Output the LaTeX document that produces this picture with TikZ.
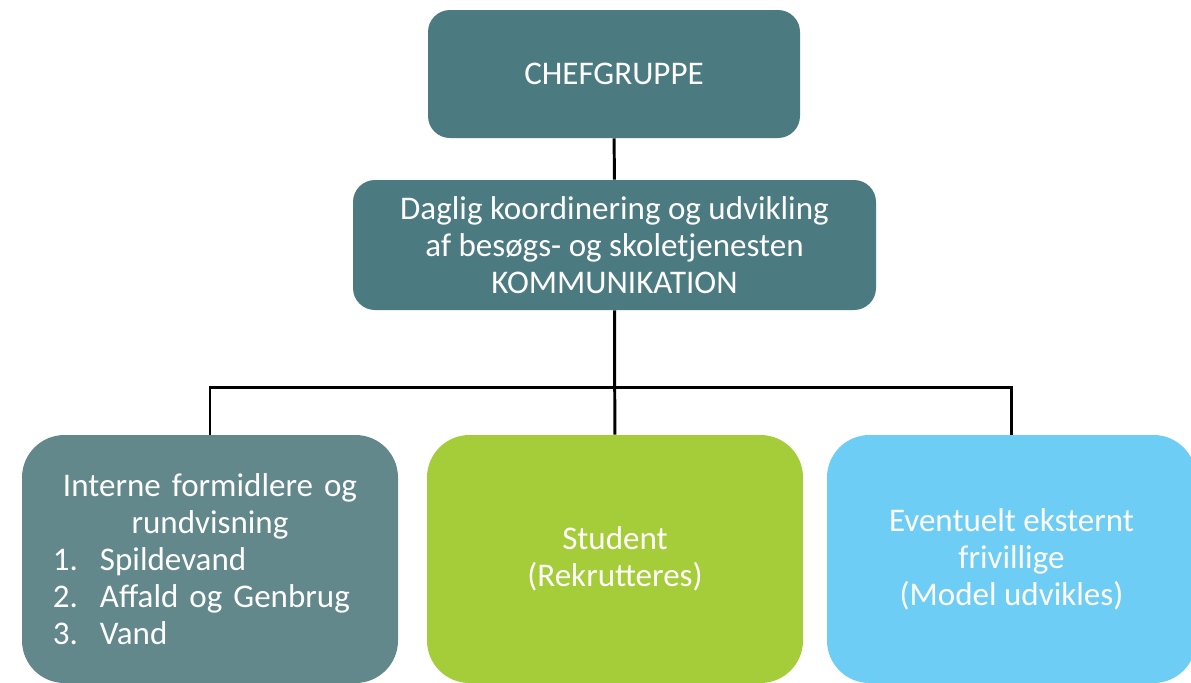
\documentclass[tikz,border=0pt]{standalone}
\usepackage{fontspec}
\setmainfont{Carlito}
\usepackage{tikz}
\usetikzlibrary{positioning}

\definecolor{tealbox}{HTML}{4B7B80}
\definecolor{greybox}{HTML}{62888C}
\definecolor{greenbox}{HTML}{A5CD39}
\definecolor{bluebox}{HTML}{6DCDF5}

\begin{document}
\begin{tikzpicture}[
			topbox/.style={rectangle, rounded corners=0.44cm, fill=tealbox, text=white, align=center, inner sep=0pt, font=\fontsize{18.8}{21}\selectfont},
			childbox/.style={rectangle, rounded corners=0.85cm, text=white, align=center, inner sep=0pt, minimum width=7.52cm, minimum height=4.96cm, font=\fontsize{18.8}{21}\selectfont},
			]
			\useasboundingbox (0,0) rectangle (23.82,-13.64);
			%Nodes
				% top nodes
				\node[topbox, minimum width=7.44cm, minimum height=2.56cm]		(chef)		at (12.28,-1.48)		{CHEFGRUPPE};
				\node[topbox, minimum width=10.46cm, minimum height=2.60cm]		(daglig)		at (12.29,-4.90)		{Daglig koordinering og udvikling\\af besøgs- og skoletjenesten\\KOMMUNIKATION};
				% child nodes
				\node[childbox, fill=greybox, text width=7.52cm, align=left]		(intern)		at (4.20,-11.18)		{\centering Interne formidlere og\\rundvisning\par
					\raggedright\hspace*{0.62cm}\makebox[0.94cm][l]{1.}Spildevand\\
					\hspace*{0.62cm}\makebox[0.94cm][l]{2.}Affald og Genbrug\\
					\hspace*{0.62cm}\makebox[0.94cm][l]{3.}Vand};
				\node[childbox, fill=greenbox]		(student)		at (12.30,-11.18)		{Student\\(Rekrutteres)};
				\node[childbox, fill=bluebox, minimum width=7.38cm]		(ekstern)		at (20.23,-11.18)		{Eventuelt eksternt\\frivillige\\(Model udvikles)};
				% ghost node for the bar
				\coordinate		(bar)		at (12.28,-7.74);

			%Lines
				\draw[line width=1.7pt] (chef) -- (daglig);
				\draw[line width=1.7pt] (daglig) -- (student);
				\draw[line width=1.7pt] (intern.north) |- (bar) -| (ekstern.north);
		\end{tikzpicture}
\end{document}
